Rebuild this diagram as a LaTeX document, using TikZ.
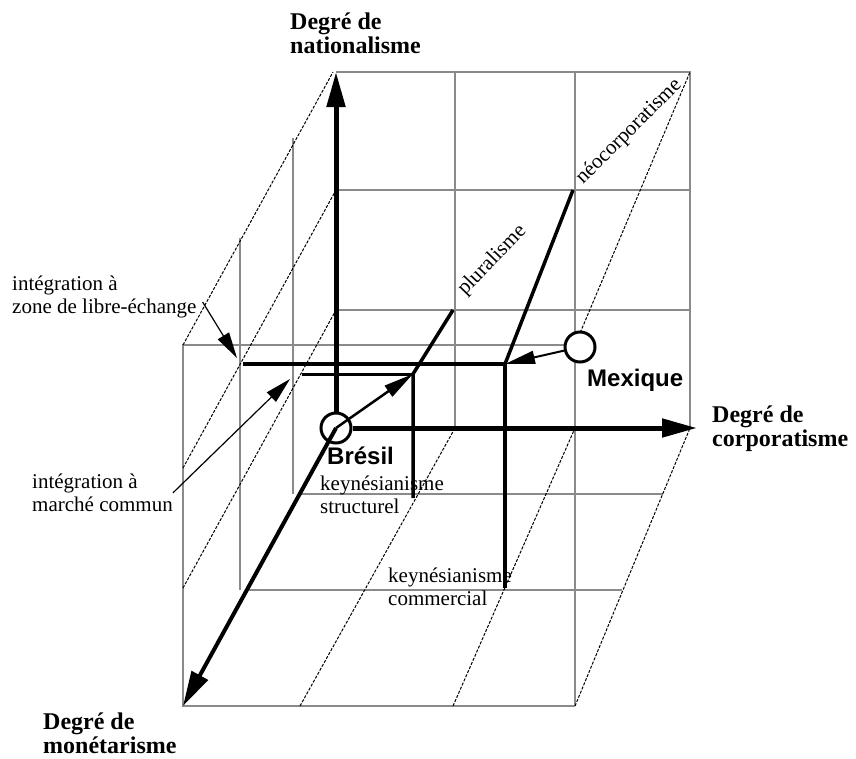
\documentclass[tikz,border=0pt]{standalone}
\usepackage{fontspec}
\setmainfont{Liberation Serif}
\setsansfont{Liberation Sans}
\usetikzlibrary{arrows.meta}
\definecolor{gridgray}{HTML}{8A8A8A}

\begin{document}
\begin{tikzpicture}[
x=1pt,y=-1pt,
every node/.style={inner sep=0pt,anchor=north west,align=left},
gridline/.style={line width=1.2pt,color=gridgray},
diag/.style={line width=1pt,dash pattern=on 3pt off 1.5pt},
axe/.style={-{Triangle[length=35pt,width=18pt]},line width=5pt},
trace/.style={line width=3.5pt},
arr/.style={-{Triangle[length=30pt,width=13pt]},line width=2.5pt},
fleche/.style={-{Triangle[length=26pt,width=13pt]},line width=1.2pt},
ttl/.style={font=\fontsize{24}{24}\selectfont\bfseries},
lbl/.style={font=\fontsize{21}{23.5}\selectfont},
pays/.style={font=\fontsize{24}{28}\selectfont\sffamily\bfseries},
pt/.style={circle,draw,line width=3pt,minimum size=30pt,anchor=center}
]
\useasboundingbox (0,0) rectangle (856,758);

\draw[gridline] (336,72) -- (690,72) -- (690,428);
\draw[gridline] (336,190) -- (690,190);
\draw[gridline] (336,310) -- (690,310);
\draw[gridline] (455,72) -- (455,428);
\draw[gridline] (575,72) -- (575,706);
\draw[gridline] (575,706) -- (183,706) -- (183,345) -- (575,345);
\draw[gridline] (293,138) -- (293,494);
\draw[gridline] (240,238) -- (240,590);
\draw[gridline] (300,494) -- (663,494);
\draw[gridline] (247,590) -- (622,590);

\draw[diag] (183,345) -- (333,72);
\draw[diag] (183,468) -- (336,190);
\draw[diag] (183,588) -- (336,310);
\draw[diag] (300,706) -- (455,428);
\draw[diag] (453,706) -- (575,428);
\draw[diag] (575,706) -- (690,428);
\draw[diag] (575,345) -- (690,72);

\coordinate (natTop) at (336,72);
\coordinate (corpEnd) at (697,428);
\coordinate (monEnd) at (183,706);
\coordinate (plA) at (413,374);
\coordinate (plB) at (453,310);
\coordinate (ksB) at (413,498);
\coordinate (mcA) at (302,374);
\coordinate (leA) at (243,364);
\coordinate (neA) at (505,364);
\coordinate (neB) at (573,190);
\coordinate (kcB) at (505,588);
\coordinate (leTip) at (237,358);
\coordinate (mcTip) at (290,379);

\node[pt] (bresil) at (336,428) {};
\node[pt,fill=white] (mexique) at (580,347) {};

\draw[axe] (bresil.north) -- (natTop);
\draw[axe] (bresil.east) -- (corpEnd);
\draw[axe,line width=4pt] (bresil.center) -- (monEnd);
\draw[arr] (bresil.center) -- (plA);
\draw[trace] (plB) -- (plA) -- (ksB);
\draw[trace,line width=3pt] (mcA) -- (plA);
\draw[trace] (leA) -- (neA) -- (kcB);
\draw[trace] (neB) -- (neA);
\draw[arr,line width=2pt] (mexique) -- (neA);

\node[ttl] (nat) at (290,12.5) {Degré de\\nationalisme};
\node[ttl] (corp) at (712,406) {Degré de\\corporatisme};
\node[ttl] (mon) at (43,713) {Degré de\\monétarisme};
\node[lbl] (libre) at (12,275.5) {intégration à\\zone de libre-échange};
\node[lbl] (marche) at (32,473.5) {intégration à\\marché commun};
\node[lbl] (kstruct) at (320,475.5) {keynésianisme\\structurel};
\node[lbl] (kcomm) at (388,567.5) {keynésianisme\\commercial};
\node[pays] (bresilLbl) at (327,447) {Brésil};
\node[pays] (mexLbl) at (587,369) {Mexique};
\node[lbl,rotate=46,anchor=base west] (plur) at (465,296) {pluralisme};
\node[lbl,rotate=45,anchor=base west] (neo) at (583,185) {néocorporatisme};

\draw[fleche] ([shift={(6,5)}]libre.east) -- (leTip);
\draw[fleche] (marche.east) -- (mcTip);
\end{tikzpicture}
\end{document}
